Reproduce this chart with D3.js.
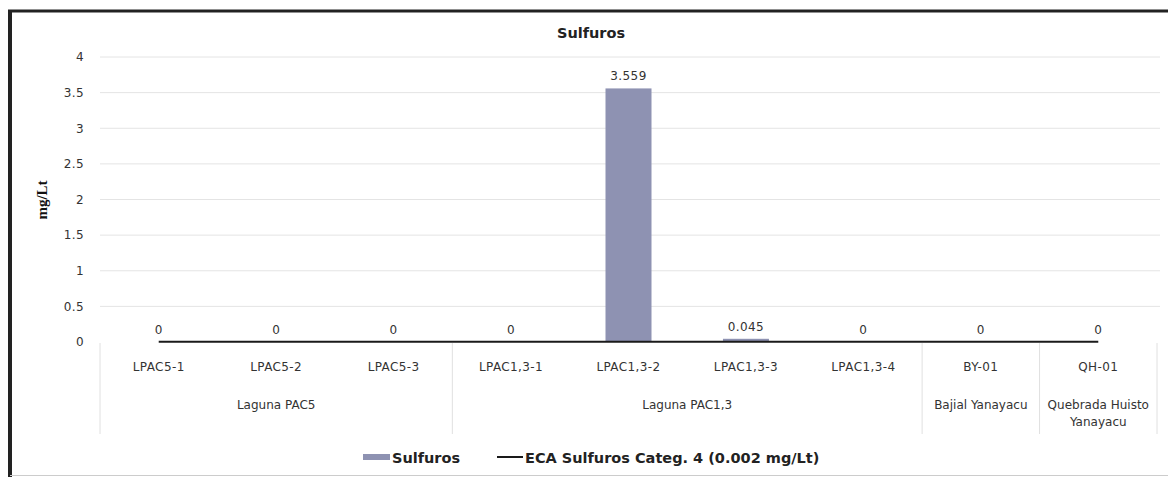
<!DOCTYPE html>
<html><head><meta charset="utf-8">
<script src="https://cdnjs.cloudflare.com/ajax/libs/d3/7.8.5/d3.min.js"></script>
<style>body{margin:0;background:#fff}svg{display:block}</style>
</head><body>
<svg id="c" width="1168" height="477"></svg>
<script>
const categories = ["LPAC5-1","LPAC5-2","LPAC5-3","LPAC1,3-1","LPAC1,3-2","LPAC1,3-3","LPAC1,3-4","BY-01","QH-01"];
const groups = [["Laguna PAC5"],["Laguna PAC5"],["Laguna PAC5"],["Laguna PAC1,3"],["Laguna PAC1,3"],["Laguna PAC1,3"],["Laguna PAC1,3"],["Bajial Yanayacu"],["Quebrada Huisto","Yanayacu"]];
const sulfuros = [0,0,0,0,3.559,0.045,0,0,0];
const eca = [0.002,0.002,0.002,0.002,0.002,0.002,0.002,0.002,0.002];
const yTicks = [0,0.5,1,1.5,2,2.5,3,3.5,4];
const title = "Sulfuros";
const yTitle = "mg/Lt";
const legendLabels = ["Sulfuros","ECA Sulfuros Categ. 4 (0.002 mg/Lt)"];

const svg = d3.select("#c");
const font = "'DejaVu Sans', sans-serif";
const fs = 12;
const ls = 0.4;
const x = d3.scaleBand().domain(categories).range([100,1157]).paddingInner(0).paddingOuter(0);
const y = d3.scaleLinear().domain([0,4]).range([342,57]);

// frame
svg.append("line").attr("x1",8).attr("x2",1168).attr("y1",11).attr("y2",11).attr("stroke","#222").attr("stroke-width",3);
svg.append("line").attr("x1",10).attr("x2",10).attr("y1",10).attr("y2",477).attr("stroke","#222").attr("stroke-width",4);
svg.append("line").attr("x1",10).attr("x2",1168).attr("y1",475.5).attr("y2",475.5).attr("stroke","#ccc").attr("stroke-width",1);

// gridlines
svg.append("g").selectAll("line").data(yTicks.filter(d=>d>0)).join("line")
  .attr("x1",100).attr("x2",1160).attr("y1",d=>y(d)).attr("y2",d=>y(d))
  .attr("stroke","#e4e4e4").attr("stroke-width",1);

// y axis labels
const yAxis = d3.axisLeft(y).tickValues(yTicks).tickSize(0).tickPadding(0).tickFormat(d=>String(d));
const ga = svg.append("g").attr("transform","translate(84,0)").call(yAxis);
ga.select(".domain").remove();
ga.selectAll("text").attr("font-family",font).attr("font-size",fs).attr("letter-spacing",ls).attr("fill","#333");

// title
svg.append("text").attr("x",591).attr("y",38).attr("text-anchor","middle")
  .attr("font-family",font).attr("font-weight","bold").attr("font-size",14.5).attr("fill","#222").text(title);
svg.append("text").attr("transform","translate(47,200) rotate(-90)").attr("text-anchor","middle")
  .attr("font-family","'Liberation Serif', serif").attr("font-weight","bold").attr("font-size",15).attr("fill","#111").text(yTitle);

// bars
const bw = 46;
svg.append("g").selectAll("rect").data(sulfuros).join("rect")
  .attr("x",(d,i)=>x(categories[i])+x.bandwidth()/2-bw/2).attr("width",bw)
  .attr("y",d=>y(d)).attr("height",d=>y(0)-y(d))
  .attr("fill","#8e92b2");

// ECA line
const line = d3.line().x((d,i)=>x(categories[i])+x.bandwidth()/2).y(d=>y(d));
svg.append("path").datum(eca).attr("d",line).attr("fill","none").attr("stroke","#1a1a1a").attr("stroke-width",2);

// data labels
svg.append("g").selectAll("text").data(sulfuros).join("text")
  .attr("x",(d,i)=>x(categories[i])+x.bandwidth()/2).attr("y",d=>y(d)-8)
  .attr("text-anchor","middle").attr("font-family",font).attr("font-size",fs).attr("letter-spacing",ls).attr("fill","#333")
  .text(d=>String(d));

// category labels
svg.append("g").selectAll("text").data(categories).join("text")
  .attr("x",d=>x(d)+x.bandwidth()/2).attr("y",371).attr("text-anchor","middle")
  .attr("font-family",font).attr("font-size",fs).attr("letter-spacing",ls).attr("fill","#333").text(d=>d);

// group labels & separators
const grp = [];
groups.forEach((g,i)=>{
  const k = g.join("|");
  if(!grp.length || grp[grp.length-1].key!==k) grp.push({key:k,lines:g,start:i,end:i});
  else grp[grp.length-1].end=i;
});
grp.forEach(g=>{
  const x0 = x(categories[g.start]), x1 = x(categories[g.end])+x.bandwidth();
  const t = svg.append("text").attr("text-anchor","middle").attr("font-family",font).attr("font-size",fs).attr("fill","#333");
  g.lines.forEach((l,j)=>t.append("tspan").attr("x",(x0+x1)/2).attr("y",409+j*17).text(l));
});
const seps = [x(categories[0])].concat(grp.map(g=>x(categories[g.end])+x.bandwidth()));
svg.append("g").selectAll("line").data(seps).join("line")
  .attr("x1",d=>d).attr("x2",d=>d).attr("y1",343).attr("y2",434).attr("stroke","#e0e0e0").attr("stroke-width",1);

// legend
svg.append("rect").attr("x",363).attr("y",454).attr("width",27).attr("height",6).attr("fill","#8e92b2");
svg.append("text").attr("x",392).attr("y",463).attr("font-family",font).attr("font-weight","bold").attr("font-size",14.5).attr("fill","#222").text(legendLabels[0]);
svg.append("line").attr("x1",497).attr("x2",523).attr("y1",457).attr("y2",457).attr("stroke","#1a1a1a").attr("stroke-width",2);
svg.append("text").attr("x",525).attr("y",463).attr("font-family",font).attr("font-weight","bold").attr("font-size",14.5).attr("fill","#222").text(legendLabels[1]);
</script>
</body></html>
